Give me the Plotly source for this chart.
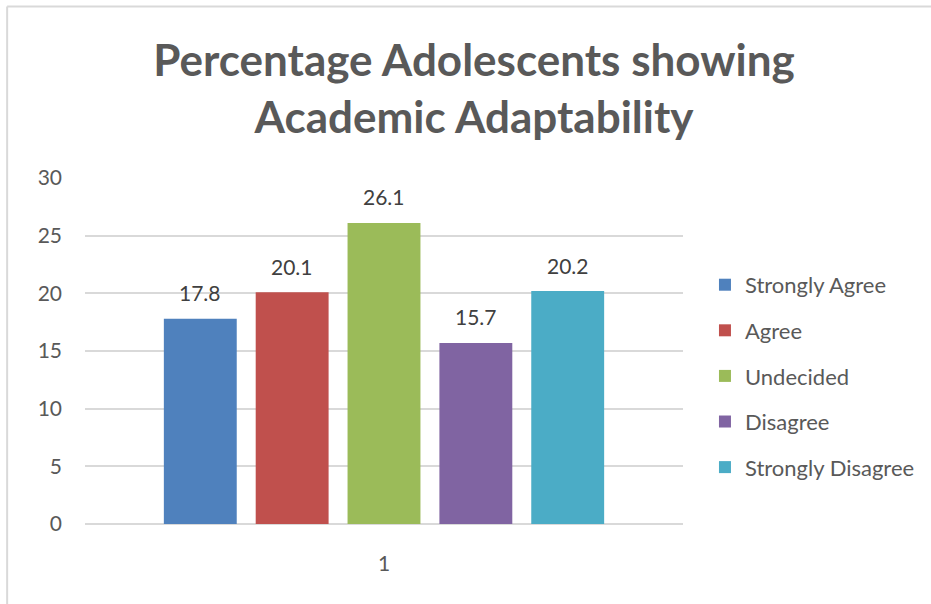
import plotly.graph_objects as go

categories = ["1"]
series_names = ["Strongly Agree", "Agree", "Undecided", "Disagree", "Strongly Disagree"]
series_values = [17.8, 20.1, 26.1, 15.7, 20.2]
series_colors = ["#4F81BD", "#C0504D", "#9BBB59", "#8064A2", "#4BACC6"]
y_ticks = [0, 5, 10, 15, 20, 25, 30]

title_text = "Percentage Adolescents showing<br>Academic Adaptability"

# style constants
FONT = "Lato"
STEP = 0.1536      # distance between bar centres (category units)
BAR_W = 0.1219     # bar width (category units)
n = len(series_names)

fig = go.Figure()
for i, (name, val, col) in enumerate(zip(series_names, series_values, series_colors)):
    centre_off = (i - (n - 1) / 2) * STEP
    fig.add_trace(go.Bar(
        x=[1], y=[val], name=name,
        marker=dict(color=col, line=dict(width=0)),
        width=BAR_W, offset=centre_off - BAR_W / 2,
        legendgroup=name,
        hoverinfo="skip",
    ))
    fig.add_annotation(
        x=1 + centre_off, y=val, xref="x", yref="y",
        text=f"{val:.1f}", showarrow=False,
        yanchor="middle", yshift=26,
        font=dict(family=FONT, size=21, color="#404040"),
    )

fig.update_layout(
    width=931, height=604,
    margin=dict(l=85, r=247, t=178, b=80),
    paper_bgcolor="white", plot_bgcolor="white",
    barmode="overlay",
    showlegend=True,
    title=dict(
        text=title_text, xref="container", yref="container",
        x=474 / 931, y=1 - 76 / 604, xanchor="center", yanchor="middle",
        font=dict(family=FONT, size=44, color="#595959", weight=700),
    ),
    legend=dict(
        x=1.035, y=0.428, xanchor="left", yanchor="middle",
        traceorder="grouped", tracegroupgap=14,
        font=dict(family=FONT, size=22, color="#595959"),
        bgcolor="rgba(0,0,0,0)",
    ),
    xaxis=dict(
        range=[0.5, 1.5], tickvals=[1], ticktext=categories,
        showgrid=False, zeroline=False, showline=False, ticks="",
        ticklabelstandoff=25,
        tickfont=dict(family=FONT, size=21, color="#595959"),
        fixedrange=True,
    ),
    yaxis=dict(
        range=[0, 30], tickvals=y_ticks,
        showgrid=True, gridcolor="#D9D9D9", gridwidth=1.5,
        zeroline=True, zerolinecolor="#D9D9D9", zerolinewidth=1.5,
        showline=False, ticks="", ticklabelstandoff=22,
        tickfont=dict(family=FONT, size=21, color="#595959"),
        fixedrange=True,
    ),
    shapes=[
        dict(type="line", xref="paper", yref="paper",
             x0=(7 - 85) / 599, x1=(931 - 85) / 599 + 0.01,
             y0=(524 - 6.5) / 346, y1=(524 - 6.5) / 346,
             line=dict(color="#D9D9D9", width=2)),
        dict(type="line", xref="paper", yref="paper",
             x0=(7 - 85) / 599, x1=(7 - 85) / 599,
             y0=(524 - 6.5) / 346, y1=(524 - 610) / 346,
             line=dict(color="#D9D9D9", width=2)),
    ],
)

fig.write_html("out.html")
